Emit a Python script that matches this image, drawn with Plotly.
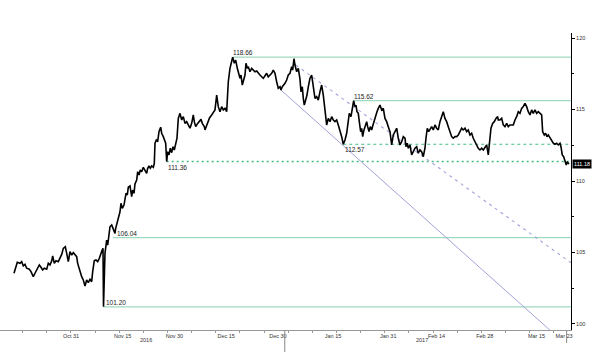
import pandas as pd
import plotly.graph_objects as go

# ---------------- data ----------------
base_date = "2016-10-29 20:10"   # day_offset 0

day_offset = [
    -15.37, -14.41, -13.63, -13.14, -12.67, -12.18, -11.69, -10.93, -10.44, -9.77,
    -9.28, -8.61, -8.03, -7.54, -7.05, -6.58, -5.89, -5.42, -4.93, -4.44,
    -4.15, -3.68, -3.19, -2.52, -2.03, -1.54, -1.07, -0.49, -0.09, 0.38,
    0.87, 1.36, 1.83, 2.32, 2.81, 3.10, 3.57, 4.26, 4.73, 5.22,
    5.71, 6.18, 6.67, 7.16, 7.45, 7.92, 8.41, 8.90, 9.37, 9.77,
    10.15, 10.44, 10.59, 11.02, 11.51, 11.80, 12.18, 12.47, 12.96, 13.43,
    13.92, 14.12, 14.50, 14.88, 15.37, 15.66, 16.04, 16.53, 16.82, 17.11,
    17.49, 17.78, 18.27, 18.76, 19.05, 19.43, 19.72, 20.21, 20.50, 20.88,
    21.26, 21.66, 22.13, 22.62, 23.11, 23.40, 23.78, 24.16, 24.56, 25.03,
    25.32, 25.52, 25.90, 26.30, 26.68, 27.17, 27.46, 27.93, 28.22, 28.62,
    28.91, 29.20, 29.58, 29.96, 30.36, 30.74, 31.12, 31.52, 31.90, 32.28,
    32.77, 33.26, 33.73, 34.22, 34.71, 35.18, 35.67, 36.16, 36.63, 36.92,
    37.32, 37.90, 38.37, 38.86, 39.24, 39.82, 40.02, 40.60, 41.33, 41.96,
    42.43, 42.92, 43.41, 43.88, 44.37, 44.86, 45.33, 45.82, 46.31, 46.78,
    47.27, 47.76, 48.05, 48.52, 48.92, 49.39, 49.68, 50.17, 50.46, 50.84,
    51.24, 51.62, 51.91, 52.29, 52.58, 53.07, 53.56, 54.03, 54.52, 55.01,
    55.48, 55.97, 56.46, 56.93, 57.42, 57.91, 58.38, 58.87, 59.36, 59.83,
    60.32, 60.81, 61.28, 61.77, 62.06, 62.44, 62.84, 63.22, 63.71, 64.18,
    64.67, 65.16, 65.45, 65.83, 66.12, 66.61, 67.08, 67.57, 67.86, 68.24,
    68.53, 68.82, 69.22, 69.60, 69.98, 70.47, 70.96, 71.25, 71.63, 71.92,
    72.41, 72.88, 73.37, 73.86, 74.33, 74.62, 75.02, 75.31, 75.78, 76.27,
    76.76, 77.23, 77.72, 78.21, 78.68, 79.17, 79.66, 80.13, 80.62, 81.11,
    81.58, 81.87, 82.36, 82.74, 83.14, 83.52, 83.81, 84.10, 84.48, 84.77,
    85.17, 85.46, 85.75, 86.13, 86.51, 86.91, 87.20, 87.58, 87.96, 88.36,
    88.74, 89.12, 89.52, 89.90, 90.28, 90.77, 91.26, 91.73, 92.22, 92.71,
    93.18, 93.67, 94.16, 94.63, 95.12, 95.61, 96.08, 96.57, 97.06, 97.53,
    98.02, 98.31, 98.69, 98.98, 99.47, 99.96, 100.43, 100.92, 101.41, 101.88,
    102.37, 102.86, 103.33, 103.82, 104.11, 104.49, 104.89, 105.27, 105.76, 106.23,
    106.72, 107.21, 107.68, 108.17, 108.66, 109.13, 109.62, 110.11, 110.58, 111.07,
    111.56, 112.03, 112.52, 113.01, 113.48, 113.97, 114.46, 114.93, 115.42, 115.91,
    116.38, 116.87, 117.36, 117.83, 118.32, 118.81, 119.28, 119.77, 120.26, 120.73,
    121.22, 121.71, 122.18, 122.67, 122.96, 123.45, 123.92, 124.41, 124.90, 125.08,
    125.57, 126.06, 126.53, 127.02, 127.51, 127.98, 128.47, 128.96, 129.43, 129.92,
    130.41, 130.88, 131.37, 131.86, 132.33, 132.82, 133.31, 133.78, 134.27, 134.76,
    135.23, 135.72, 136.21, 136.68, 137.17, 137.66, 137.95, 138.42, 138.82, 139.20,
    139.58, 140.07, 140.56, 141.03, 141.52, 142.01, 142.48, 142.97, 143.26, 143.64,
    144.04, 144.42, 144.80, 145.09, 145.38, 145.58,
]

price = [
    103.55, 104.31, 104.24, 104.36, 104.06, 104.17, 103.90, 103.83, 103.66, 103.31,
    103.55, 103.83, 104.13, 103.97, 103.78, 103.90, 103.83, 104.24, 104.13, 104.41,
    104.76, 104.24, 104.43, 104.36, 104.59, 104.87, 105.29, 105.41, 104.94, 104.36,
    105.06, 104.82, 104.99, 104.82, 104.71, 104.24, 103.83, 103.31, 103.08, 102.66,
    103.08, 102.89, 103.13, 102.96, 103.66, 104.43, 104.48, 104.36, 104.59, 104.94,
    105.13, 105.29, 101.20, 104.94, 105.87, 105.52, 106.10, 106.80, 106.92, 106.57,
    106.34, 106.69, 107.04, 107.50, 107.85, 108.44, 108.09, 108.32, 108.67, 109.14,
    109.02, 109.56, 109.65, 108.90, 109.37, 109.14, 109.79, 110.07, 110.65, 110.42,
    110.77, 110.65, 110.96, 110.77, 110.54, 110.89, 111.05, 110.89, 111.05, 110.96,
    111.24, 112.64, 112.87, 112.75, 113.45, 113.76, 113.34, 113.10, 112.87, 112.64,
    111.36, 112.05, 111.82, 112.29, 111.98, 112.40, 112.17, 112.64, 112.99, 114.38,
    114.73, 114.27, 114.50, 114.03, 114.15, 113.92, 113.69, 114.03, 114.62, 114.15,
    113.80, 114.03, 114.15, 114.31, 114.03, 113.80, 113.57, 113.92, 114.41, 114.62,
    114.83, 114.97, 116.01, 115.20, 114.85, 115.20, 114.97, 115.08, 114.85, 116.94,
    117.88, 118.46, 118.66, 118.23, 118.46, 117.88, 117.64, 117.18, 117.41, 116.71,
    117.06, 117.41, 118.23, 117.88, 117.99, 117.64, 117.88, 117.76, 117.64, 117.69,
    117.53, 117.41, 117.29, 117.18, 117.36, 117.53, 117.29, 117.41, 117.53, 117.76,
    117.53, 116.94, 116.48, 116.59, 116.36, 116.59, 116.71, 116.83, 117.06, 117.41,
    117.53, 117.99, 117.76, 118.55, 118.11, 117.64, 117.88, 117.13, 116.24, 116.59,
    115.78, 115.31, 115.66, 116.01, 116.59, 117.18, 117.41, 116.94, 116.24, 115.78,
    115.90, 115.66, 116.24, 116.71, 116.01, 115.31, 114.73, 113.92, 114.38, 114.15,
    114.50, 114.27, 114.15, 114.27, 113.92, 113.57, 113.10, 112.57, 112.87, 113.34,
    114.38, 114.73, 114.50, 114.97, 115.62, 115.20, 115.31, 114.85, 114.73, 114.15,
    113.45, 113.69, 113.10, 113.57, 113.92, 114.15, 113.80, 113.45, 113.80, 113.57,
    113.92, 114.27, 114.50, 114.85, 115.08, 115.31, 114.97, 115.08, 114.38, 114.15,
    113.80, 113.45, 112.52, 113.22, 113.45, 113.69, 112.99, 112.52, 112.75, 113.10,
    112.99, 112.40, 112.64, 112.29, 112.52, 111.82, 112.05, 112.29, 112.40, 111.94,
    112.17, 112.05, 111.70, 112.29, 112.99, 113.69, 113.45, 113.57, 113.80, 113.57,
    113.92, 113.69, 113.57, 114.15, 114.50, 114.85, 114.38, 114.15, 113.80, 113.45,
    113.10, 112.99, 113.10, 113.10, 113.22, 113.45, 113.69, 113.57, 113.69, 113.45,
    113.57, 113.22, 113.34, 112.99, 112.75, 112.52, 112.29, 112.17, 112.29, 112.17,
    112.40, 112.52, 111.82, 112.75, 113.69, 114.03, 114.15, 114.38, 114.50, 114.27,
    114.27, 114.38, 113.92, 113.80, 114.03, 113.80, 113.92, 113.92, 113.92, 114.27,
    114.50, 114.85, 114.73, 115.08, 115.20, 115.43, 115.20, 114.85, 114.62, 114.97,
    114.73, 114.97, 114.73, 114.85, 114.73, 114.62, 113.45, 113.22, 113.34, 113.10,
    113.22, 112.99, 112.75, 112.64, 112.57, 112.64, 112.52, 112.64, 112.40, 111.82,
    111.70, 111.47, 111.12, 111.35, 111.24, 111.18,
]

# horizontal levels: value, start (day offset), kind
level_values = [118.66, 115.62, 112.57, 111.36, 106.04, 101.20]
level_starts = [48.05, 83.14, 80.13, 28.91, 13.34, 10.59]
level_kinds = ["solid", "solid", "dash", "dot", "solid", "solid"]
level_label_starts = [47.77, 83.00, 80.42, 29.09, 14.12, 11.02]
level_label_side = ["above", "above", "below", "below", "above", "above"]

# trend lines (day offset, value)
trend_solid = ([62.06, 140.66], [116.36, 99.44])
trend_dashed = ([66.40, 146.17], [118.10, 104.28])

x_range_days = [-19.43, 146.17]
y_range = [99.58, 120.35]

tick_dates = ["2016-10-31", "2016-11-15", "2016-11-30", "2016-12-15", "2016-12-30",
              "2017-01-15", "2017-01-31", "2017-02-14", "2017-02-28", "2017-03-15",
              "2017-03-23"]
tick_labels = ["Oct 31", "Nov 15", "Nov 30", "Dec 15", "Dec 30", "Jan 15", "Jan 31",
               "Feb 14", "Feb 28", "Mar 15", "Mar 23"]
year_labels = ["2016", "2017"]
year_label_days = [22.95, 103.10]
year_break = "2017-01-01"
last_value = 111.18
last_day = 144.90

# ---------------- helpers ----------------
base = pd.Timestamp(base_date)


def at(d):
    return (base + pd.to_timedelta(d, unit="D")).strftime("%Y-%m-%d %H:%M:%S")


x_dates = [at(d) for d in day_offset]
x_end = at(x_range_days[1])

GREEN = "#9fd9bf"
GREEN_DASH = "#43bf83"
LAV = "#a3a3da"
FONT = "Liberation Sans"

fig = go.Figure()

# levels
for v, s, k in zip(level_values, level_starts, level_kinds):
    if k == "solid":
        line = dict(color=GREEN, width=1.2)
    elif k == "dash":
        line = dict(color=GREEN_DASH, width=1.2, dash="3px,3px")
    else:
        line = dict(color=GREEN_DASH, width=1.4, dash="2px,3px")
    fig.add_trace(go.Scatter(x=[at(s), x_end], y=[v, v], mode="lines",
                             line=line, hoverinfo="skip", showlegend=False))

# trend lines
fig.add_trace(go.Scatter(x=[at(d) for d in trend_solid[0]], y=trend_solid[1],
                         mode="lines", line=dict(color=LAV, width=1),
                         hoverinfo="skip", showlegend=False))
fig.add_trace(go.Scatter(x=[at(d) for d in trend_dashed[0]], y=trend_dashed[1],
                         mode="lines", line=dict(color=LAV, width=1.1, dash="3px,4px"),
                         hoverinfo="skip", showlegend=False))

# price
fig.add_trace(go.Scatter(x=x_dates, y=price, mode="lines",
                         line=dict(color="black", width=1.6),
                         showlegend=False))

annotations = []
for v, s, side in zip(level_values, level_label_starts, level_label_side):
    annotations.append(dict(
        x=at(s), y=v, xref="x", yref="y", text=f"{v:.2f}", showarrow=False,
        xanchor="left", yanchor="bottom" if side == "above" else "top",
        font=dict(family=FONT, size=6.5, color="#222"), borderpad=0,
        yshift=0 if side == "above" else -1))

for t, d in zip(year_labels, year_label_days):
    annotations.append(dict(
        x=at(d), y=-0.034, xref="x", yref="paper", text=t, showarrow=False,
        xanchor="center", yanchor="middle",
        font=dict(family=FONT, size=5.5, color="#333")))

annotations.append(dict(
    x=1, y=last_value, xref="paper", yref="y", text=f"{last_value:.2f}",
    showarrow=False, xanchor="left", yanchor="middle", xshift=1,
    bgcolor="black", borderpad=1,
    font=dict(family=FONT, size=5.5, color="white")))

shapes = [
    dict(type="line", xref="x", yref="paper", x0=year_break, x1=year_break,
         y0=0, y1=-0.074, line=dict(color="#888", width=1)),
    dict(type="line", xref="x", yref="paper", x0=at(last_day), x1=at(last_day),
         y0=0, y1=-0.044, line=dict(color="#888", width=1)),
]

fig.update_layout(
    width=600, height=356,
    margin=dict(l=0, r=29, t=33, b=26),
    paper_bgcolor="white", plot_bgcolor="white",
    font=dict(family=FONT, size=6, color="#333"),
    annotations=annotations, shapes=shapes,
    xaxis=dict(
        type="date", range=[at(x_range_days[0]), x_end],
        tickmode="array", tickvals=tick_dates, ticktext=tick_labels,
        tickfont=dict(family=FONT, size=5.5, color="#333"),
        ticks="", showline=True, linecolor="#999", linewidth=1,
        showgrid=False, zeroline=False,
        minor=dict(ticks="outside", ticklen=2, tickcolor="#999",
                   dtick=7 * 86400000, tick0="2016-10-17", showgrid=False),
    ),
    yaxis=dict(
        side="right", range=y_range,
        tickmode="array", tickvals=[100, 105, 110, 115, 120],
        ticks="outside", ticklen=3, tickcolor="black",
        tickfont=dict(family=FONT, size=5.5, color="#333"),
        showline=True, linecolor="black", linewidth=1,
        showgrid=False, zeroline=False,
        minor=dict(ticks="outside", ticklen=2, tickcolor="black",
                   dtick=2.5, tick0=100, showgrid=False),
    ),
)

fig.write_html("out.html", config={"displayModeBar": False},
               post_script="document.body.style.margin='0';document.body.style.padding='0';")
